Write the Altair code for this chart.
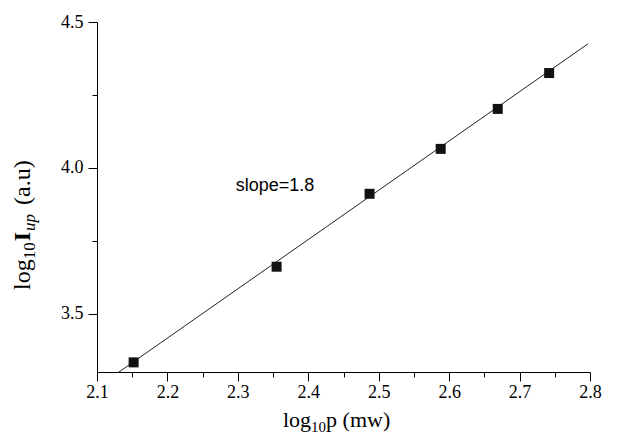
import altair as alt
import pandas as pd

# ---- data ----
x_vals = [2.152, 2.355, 2.487, 2.588, 2.669, 2.742]
y_vals = [3.333, 3.661, 3.911, 4.065, 4.202, 4.325]
fit_x = [2.130, 2.797]
fit_y = [3.298, 4.425]
annot_x = [2.297]
annot_y = [3.92]
annot_text = ["slope=1.8"]

x_domain = [2.1, 2.8]
y_domain = [3.3, 4.5]
x_ticks = [2.1, 2.15, 2.2, 2.25, 2.3, 2.35, 2.4, 2.45, 2.5, 2.55, 2.6, 2.65, 2.7, 2.75, 2.8]
y_ticks = [3.5, 3.75, 4.0, 4.25, 4.5]

# title pieces: (text, size, weight, style, subscript, gap before)
x_title = [("log", 22, "normal", "normal", False, 0), ("10", 15, "normal", "normal", True, 0),
           ("p (mw)", 22, "normal", "normal", False, 0)]
y_title = [("log", 24, "normal", "normal", False, 0), ("10", 17, "normal", "normal", True, 0),
           ("I", 24, "bold", "normal", False, 1), ("up", 17, "normal", "italic", True, 1),
           ("(a.u)", 24, "normal", "normal", False, 9)]

W, H = 493, 350
SERIF = "Liberation Serif"

# Times-like advance widths (em)
ADV = {"l": .278, "o": .5, "g": .5, "1": .5, "0": .5, "p": .5, " ": .25, "(": .333,
       "m": .778, "w": .722, ")": .333, "a": .444, ".": .25, "u": .5, "I": .389}

def width(s, size):
    return sum(ADV.get(c, .5) for c in s) * size

def title_marks(pieces, start, base, vertical):
    marks = []
    pos = start
    for t, size, weight, style, sub, gap in pieces:
        pos = pos - gap if vertical else pos + gap
        shift = 5 if sub else 0
        if vertical:
            enc = dict(x=alt.value(base + shift), y=alt.value(pos))
        else:
            enc = dict(x=alt.value(pos), y=alt.value(base + shift))
        m = alt.Chart(pd.DataFrame({"t": [t]})).mark_text(
            font=SERIF, fontSize=size, fontWeight=weight, fontStyle=style,
            align="left", baseline="alphabetic", color="black",
            angle=270 if vertical else 0,
        ).encode(text="t:N", **enc)
        marks.append(m)
        pos = pos - width(t, size) if vertical else pos + width(t, size)
    return marks

major_x = "abs(datum.value*10 - round(datum.value*10)) < 0.001"
major_y = "abs(datum.value*2 - round(datum.value*2)) < 0.001"

axis_common = dict(grid=False, title=None, domainColor="black", domainWidth=1,
                   tickColor="black", tickWidth=1, labelFont=SERIF, labelFontSize=18,
                   labelColor="black", labelOverlap=False, labelFlush=False)

xs = alt.X("x:Q", scale=alt.Scale(domain=x_domain, nice=False, zero=False),
           axis=alt.Axis(values=x_ticks, labelExpr=f"{major_x} ? format(datum.value, '.1f') : ''",
                         tickSize={"condition": {"test": major_x, "value": 9}, "value": 5},
                         labelPadding=2, **axis_common))
ys = alt.Y("y:Q", scale=alt.Scale(domain=y_domain, nice=False, zero=False),
           axis=alt.Axis(values=y_ticks, labelExpr=f"{major_y} ? format(datum.value, '.1f') : ''",
                         tickSize={"condition": {"test": major_y, "value": 9}, "value": 5},
                         labelPadding=5, **axis_common))

pts = pd.DataFrame({"x": x_vals, "y": y_vals})
fit = pd.DataFrame({"x": fit_x, "y": fit_y})
ann = pd.DataFrame({"x": annot_x, "y": annot_y, "t": annot_text})

line = alt.Chart(fit).mark_line(color="#222", strokeWidth=1).encode(x=xs, y=ys)
squares = alt.Chart(pts).mark_square(size=100, color="#111", opacity=1).encode(x=xs, y=ys)
label = alt.Chart(ann).mark_text(font="Liberation Sans", fontSize=18, align="left",
                                 baseline="alphabetic", color="black").encode(x=xs, y=ys, text="t:N")

xt = title_marks(x_title, 186, 405, False)
yt = title_marks(y_title, 268, -67, True)

chart = alt.layer(line, squares, label, *xt, *yt).properties(
    width=W, height=H,
    padding={"left": 89, "top": 14, "right": 29, "bottom": 67},
    autosize=alt.AutoSizeParams(type="none"),
    background="white",
).configure_view(stroke=None)

chart.save("out.html", embed_options={"renderer": "svg", "actions": False})
